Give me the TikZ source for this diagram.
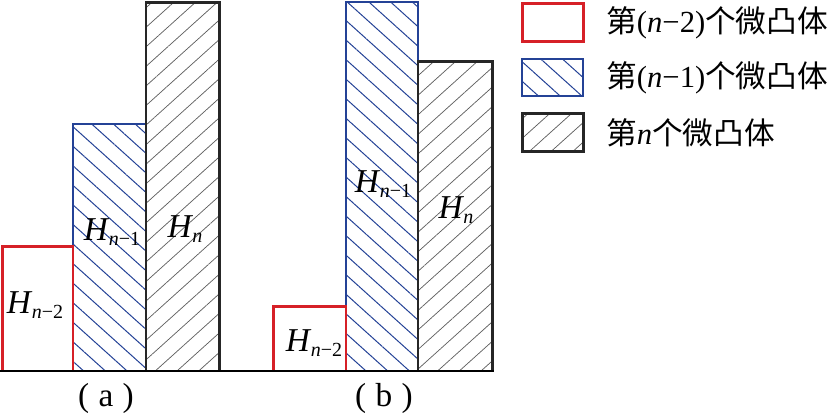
\documentclass[tikz,border=0pt]{standalone}
\usepackage{fontspec}
\setmainfont{Liberation Serif}
\newfontfamily\cjk{Noto Sans CJK SC}
\usepackage{xcolor}
\usetikzlibrary{patterns.meta,positioning}

\definecolor{barred}{RGB}{214,32,39}
\definecolor{barblue}{RGB}{36,66,150}
\definecolor{hatchgray}{RGB}{95,95,95}

\newcommand{\Hsub}[1]{\textit{H}\kern-0.5pt\raisebox{-3.7pt}{\fontsize{15}{15}\selectfont #1}}
\newcommand{\capt}[1]{(\kern7pt#1\kern7pt)}

\tikzset{
    redbar/.style={draw=barred, line width=2.2pt},
    bluebar/.style={draw=barblue, line width=1.6pt,
        pattern={Lines[angle=-42,distance=10.9pt,line width=0.75pt]}, pattern color=barblue},
    blackbar/.style={draw=black!85, line width=2.2pt,
        pattern={Lines[angle=42,distance=10.9pt,line width=0.55pt]}, pattern color=hatchgray},
    lab/.style={font=\fontsize{25}{30}\selectfont, inner sep=0pt},
    keytext/.style={font=\fontsize{23}{28}\selectfont, inner sep=0pt, anchor=west}
}

\begin{document}
\begin{tikzpicture}[x=0.75pt, y=0.75pt]
    \useasboundingbox (0,0) rectangle (838,413);

    % blue bars and key
    \draw[bluebar] (73,42) rectangle (146,289);
    \draw[bluebar] (346,42) rectangle (418,411);
    \draw[bluebar] (522,317) rectangle (583,354);

    % red and black bars, half a pixel over
    \begin{scope}[shift={(0.5,0.5)}]
        \draw[redbar] (2,41.5) rectangle (72.5,166);
        \draw[blackbar] (145.5,41.5) rectangle (219,410);
        \draw[redbar] (273,41.5) rectangle (345.5,106);
        \draw[blackbar] (417.5,41.5) rectangle (492,351);
        \draw[line width=2.2pt] (-1,41.5) -- (493,41.5);

        \draw[redbar] (522,371) rectangle (583,409);
        \draw[blackbar] (522,261) rectangle (583,299);
    \end{scope}

    \node[lab] (ha2) at (35,108) {\Hsub{\textit{n}−2}};
    \node[lab] (ha1) at (112,181) {\Hsub{\textit{n}−1}};
    \node[lab] (ha0) at (185,184) {\Hsub{\textit{n}}};
    \node[lab] (hb2) at (314,70) {\Hsub{\textit{n}−2}};
    \node[lab] (hb1) at (383,229) {\Hsub{\textit{n}−1}};
    \node[lab] (hb0) at (456,203) {\Hsub{\textit{n}}};

    \node[lab, anchor=base] (capa) at (106,6) {\capt{a}};
    \node[lab, anchor=base] (capb) at (384,6) {\capt{b}};

    % legend
    \node[keytext] (key2) at (606,390) {{\cjk 第}(\textit{n}−2){\cjk 个微凸体}};
    \node[keytext] (key1) at (606,335) {{\cjk 第}(\textit{n}−1){\cjk 个微凸体}};
    \node[keytext] (key0) at (606,280) {{\cjk 第}\textit{n}{\cjk 个微凸体}};
\end{tikzpicture}
\end{document}
